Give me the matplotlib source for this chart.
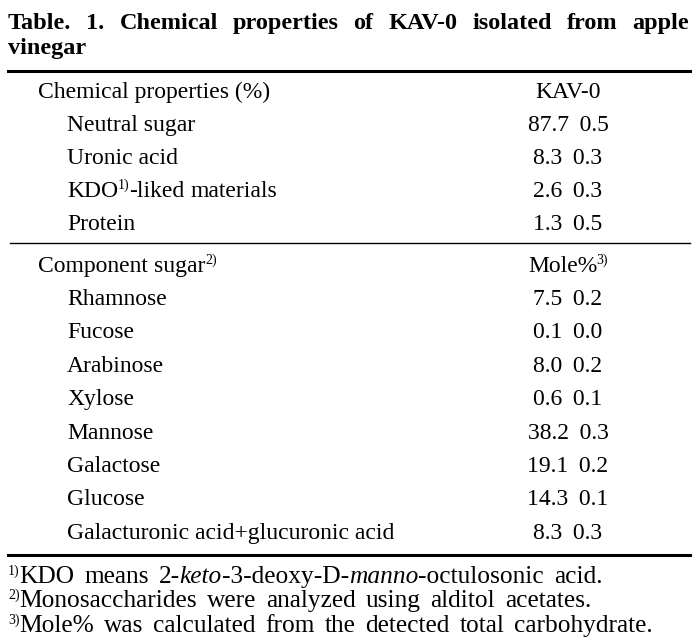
import matplotlib
matplotlib.use("Agg")
import matplotlib.pyplot as plt

W, H = 699, 643
FONT = ["Liberation Serif", "DejaVu Serif"]

title_line1 = "Table. 1. Chemical properties of KAV-0 isolated from apple"
title_line2 = "vinegar"

header1 = ["Chemical properties (%)", "KAV-0"]
prop_names = ["Neutral sugar", "Uronic acid", "KDO-liked materials", "Protein"]
prop_means = [87.7, 8.3, 2.6, 1.3]
prop_sds = [0.5, 0.3, 0.3, 0.5]

header2 = ["Component sugar", "Mole%"]
sugar_names = ["Rhamnose", "Fucose", "Arabinose", "Xylose", "Mannose",
               "Galactose", "Glucose", "Galacturonic acid+glucuronic acid"]
sugar_means = [7.5, 0.1, 8.0, 0.6, 38.2, 19.1, 14.3, 8.3]
sugar_sds = [0.2, 0.0, 0.2, 0.1, 0.3, 0.2, 0.1, 0.3]

footnotes = [
    [("1)", "sup"), ("KDO means 2-", "n"), ("keto", "i"), ("-3-deoxy-D-", "n"),
     ("manno", "i"), ("-octulosonic acid.", "n")],
    [("2)", "sup"), ("Monosaccharides were analyzed using alditol acetates.", "n")],
    [("3)", "sup"), ("Mole% was calculated from the detected total carbohydrate.", "n")],
]

fig = plt.figure(figsize=(W / 100, H / 100), dpi=100)
fig.patch.set_facecolor("white")
fig.canvas.draw()
renderer = fig.canvas.get_renderer()

BODY = 17
FOOT = 18.3
SUP = 10
TS = 17.5


def fx(x):
    return x / W


def fy(y):
    return 1 - y / H


def put(x, y, s, size=BODY, weight="normal", style="normal", ha="left"):
    return fig.text(fx(x), fy(y), s, fontsize=size, family=FONT, weight=weight,
                    style=style, ha=ha, va="baseline", color="black")


def width(t):
    return t.get_window_extent(renderer).width


def space_width(size):
    a = put(10, 10, "a a", size=size)
    b = put(10, 10, "aa", size=size)
    w = width(a) - width(b)
    a.remove()
    b.remove()
    return w


def segments(x, y, segs, size=BODY, extra=0.0):
    sp = space_width(size)
    for s, kind in segs:
        if kind == "sup":
            t = put(x, y - 8, s, size=SUP)
            x += width(t) - 0.3
            continue
        style = "italic" if kind == "i" else "normal"
        parts = s.split(" ")
        for j, p in enumerate(parts):
            if p:
                t = put(x, y, p, size=size, style=style)
                x += width(t)
            if j < len(parts) - 1:
                x += sp + extra
    return x


def hline(y, lw, x0=8, x1=690):
    fig.add_artist(plt.Line2D([fx(x0), fx(x1)], [fy(y), fy(y)],
                              transform=fig.transFigure, color="black", lw=lw))


# Title (justified first line)
words = title_line1.split(" ")
ts = [put(0, 29, w, size=TS, weight="bold") for w in words]
ws = [width(t) for t in ts]
left, right = 8, 689
gap = (right - left - sum(ws)) / (len(ws) - 1)
x = left
for t, w in zip(ts, ws):
    t.set_x(fx(x))
    x += w + gap
put(8, 54, title_line2, size=TS, weight="bold")

hline(71, 2.2)

VAL_X = 568
SEP = " \u2009"
put(38, 98, header1[0])
put(VAL_X, 98, header1[1], ha="center")

row_y = [131, 164, 197, 230]
for i, (n, m, s) in enumerate(zip(prop_names, prop_means, prop_sds)):
    if n.startswith("KDO"):
        segments(67, row_y[i], [("KDO", "n"), ("1)", "sup"), (n[3:], "n")])
    else:
        put(67, row_y[i], n)
    put(VAL_X, row_y[i], f"{m:.1f}{SEP}{s:.1f}", ha="center")

hline(243, 1.0, x0=10)

segments(38, 272, [(header2[0], "n"), ("2)", "sup")])
t = put(0, 272, header2[1])
w = width(t) - 1.0
t2 = put(0, 264, "3)", size=SUP)
w2 = width(t2)
x0 = VAL_X - (w + w2) / 2
t.set_x(fx(x0))
t2.set_x(fx(x0 + w))

sy = [305, 338, 372, 405, 439, 472, 505, 539]
for i, (n, m, s) in enumerate(zip(sugar_names, sugar_means, sugar_sds)):
    put(67, sy[i], n)
    put(VAL_X, sy[i], f"{m:.1f}{SEP}{s:.1f}", ha="center")

hline(555, 2.2)

fy_foot = [583, 607, 632]
for y, segs in zip(fy_foot, footnotes):
    segments(8, y, segs, size=FOOT, extra=3.5)

fig.savefig("out.png", dpi=100, facecolor="white")
